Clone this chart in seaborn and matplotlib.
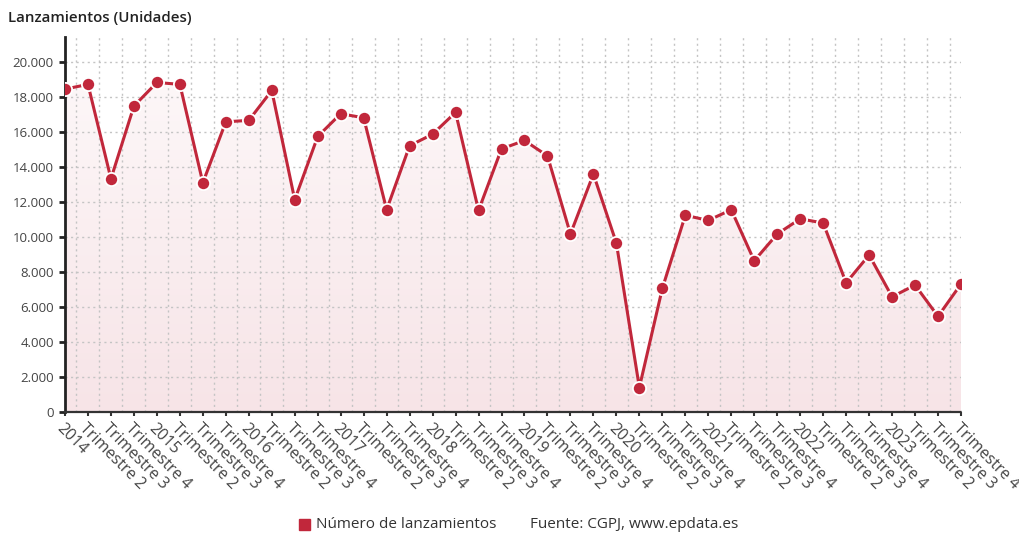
import numpy as np
import pandas as pd
import matplotlib
matplotlib.use("Agg")
import matplotlib.pyplot as plt
import seaborn as sns
from matplotlib.ticker import FuncFormatter, MultipleLocator

# Quarterly evictions (lanzamientos) 2014-2023
years = list(range(2014, 2024))
quarter_labels = ["Trimestre 2", "Trimestre 3", "Trimestre 4"]
lanzamientos = [
    18470, 18740, 13340, 17500,
    18850, 18740, 13110, 16600,
    16680, 18390, 12140, 15760,
    17060, 16830, 11570, 15230,
    15890, 17140, 11530, 15050,
    15530, 14650, 10180, 13610,
    9660, 1400, 7070, 11250,
    10960, 11570, 8650, 10180,
    11050, 10810, 7390, 8980,
    6590, 7260, 5470, 7320,
]

tick_labels = []
for y in years:
    tick_labels.append(str(y))
    tick_labels.extend(quarter_labels)

df = pd.DataFrame({"pos": np.arange(len(lanzamientos)), "valor": lanzamientos})

RED = "#c1273b"
GRID = "#c4c4c4"

sns.set_theme(style="white")
plt.rcParams["font.family"] = ["Open Sans", "DejaVu Sans"]

fig = plt.figure(figsize=(10.2, 5.33), dpi=100)
ax = fig.add_axes([65 / 1020, 1 - 412 / 533, (961 - 65) / 1020, (412 - 37) / 533])

x = df["pos"].to_numpy()
y = df["valor"].to_numpy()
ymax = 21450

# gradient fill under the line
poly = ax.fill_between(x, 0, y, color="none", lw=0)
grad = np.linspace(0, 1, 256).reshape(-1, 1)
cmap = matplotlib.colors.LinearSegmentedColormap.from_list("pk", ["#f7e4e7", "#fdf8f9"])
img = ax.imshow(grad, cmap=cmap, aspect="auto", origin="lower",
                extent=[x[0], x[-1], 0, 20000], zorder=0.5)
img.set_clip_path(poly.get_paths()[0], transform=ax.transData)

# grid
for yy in range(2000, 22000, 2000):
    ax.axhline(yy, color=GRID, lw=1, ls=(0, (1.5, 2.5)), zorder=1)
for xx in np.arange(0.5, len(x) - 1, 1):
    ax.axvline(xx, color=GRID, lw=1, ls=(0, (1.5, 2.5)), zorder=1)

sns.lineplot(data=df, x="pos", y="valor", ax=ax, color=RED, lw=2.2,
             marker="o", markersize=9.5, markeredgecolor="white",
             markeredgewidth=1.3, zorder=3, legend=False)

ax.set_xlim(0, len(x) - 1)
ax.set_ylim(0, ymax)
ax.set_xlabel("")
ax.set_ylabel("")

ax.yaxis.set_major_locator(MultipleLocator(2000))
ax.yaxis.set_major_formatter(FuncFormatter(lambda v, p: f"{int(v):,}".replace(",", ".")))
ax.tick_params(axis="y", labelsize=9.5, labelcolor="#444444", length=4, width=2,
               color="#222222", direction="out", pad=4, left=True)

ax.set_xticks(x)
ax.set_xticklabels(tick_labels, rotation=-45, ha="left", va="top",
                   rotation_mode="anchor", fontsize=11.5, color="#444444")
ax.tick_params(axis="x", length=3, width=1.5, color="#333333", pad=3, bottom=True)

for s in ["top", "right"]:
    ax.spines[s].set_visible(False)
ax.spines["left"].set_color("#222222")
ax.spines["left"].set_linewidth(2)
ax.spines["bottom"].set_color("#333333")
ax.spines["bottom"].set_linewidth(1.6)
ax.spines["bottom"].set_linestyle((0, (1, 1)))

fig.text(8 / 1020, 1 - 18 / 533, "Lanzamientos (Unidades)", fontsize=10.8,
         fontweight="semibold", color="#222222", va="center", ha="left")

# legend and source
fig.patches.append(matplotlib.patches.Rectangle(
    (299 / 1020, 1 - 530 / 533), 11 / 1020, 11 / 533,
    transform=fig.transFigure, color=RED, figure=fig))
fig.text(316 / 1020, 1 - 524 / 533, "Número de lanzamientos", fontsize=11,
         color="#333333", va="center", ha="left")
fig.text(530 / 1020, 1 - 524 / 533, "Fuente: CGPJ, www.epdata.es", fontsize=11,
         color="#333333", va="center", ha="left")

fig.savefig("out.png", dpi=100)
